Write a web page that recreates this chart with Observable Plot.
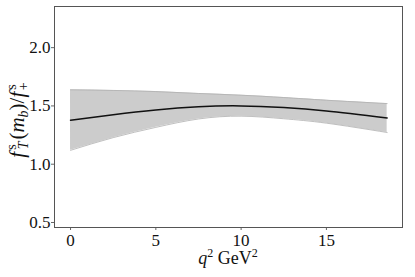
<!DOCTYPE html>
<html>
<head>
<meta charset="utf-8">
<script src="https://cdn.jsdelivr.net/npm/d3@7"></script>
<script src="https://cdn.jsdelivr.net/npm/@observablehq/plot@0.6"></script>
<style>
  html, body { margin: 0; padding: 0; background: #fff; }
  svg text { font-family: "Liberation Serif", "DejaVu Serif", serif !important; }
</style>
</head>
<body>
<div id="chart"></div>
<script>
const q2 = [0, 2.5, 5, 7.5, 10, 12.5, 15, 18.56];
const central = [1.377, 1.425, 1.466, 1.493, 1.500, 1.486, 1.457, 1.397];
const upper = [1.638, 1.633, 1.623, 1.607, 1.592, 1.572, 1.549, 1.520];
const lower = [1.119, 1.228, 1.316, 1.388, 1.412, 1.390, 1.352, 1.272];
const xTicks = [0, 5, 10, 15];
const yTicks = [0.5, 1.0, 1.5, 2.0];

const data = q2.map((x, i) => ({x, c: central[i], lo: lower[i], hi: upper[i]}));
const FONT = "'Liberation Serif', 'DejaVu Serif', serif";

const plot = Plot.plot({
  width: 415,
  height: 277,
  marginLeft: 54,
  marginRight: 13,
  marginTop: 6,
  marginBottom: 50,
  style: {fontFamily: FONT, fontSize: "17px", color: "#111", background: "#fff"},
  x: {domain: [-0.94, 19.46]},
  y: {domain: [0.457, 2.353]},
  marks: [
    Plot.areaY(data, {x: "x", y1: "lo", y2: "hi", fill: "#cccccc", curve: "natural"}),
    Plot.line(data, {x: "x", y: "hi", stroke: "#b0b0b0", strokeWidth: 0.8, curve: "natural"}),
    Plot.line(data, {x: "x", y: "lo", stroke: "#b0b0b0", strokeWidth: 0.8, curve: "natural"}),
    Plot.line(data, {x: "x", y: "c", stroke: "#111", strokeWidth: 1.5, curve: "natural"}),
    Plot.axisX({ticks: xTicks, tickSize: 3, tickPadding: 3, label: null, stroke: "#666", fontSize: 17, fontFamily: FONT}),
    Plot.axisY({ticks: yTicks, tickSize: 3, tickPadding: 1, tickFormat: d3.format(".1f"), label: null, stroke: "#666", fontSize: 17, fontFamily: FONT}),
    Plot.frame({stroke: "#555", strokeWidth: 1})
  ]
});

const svg = d3.select(plot);
// x label
const xl = svg.append("text")
  .attr("x", 228).attr("y", 264)
  .attr("text-anchor", "middle")
  .attr("font-size", 18)
  .attr("fill", "#111");
xl.append("tspan").attr("font-style", "italic").text("q");
xl.append("tspan").attr("font-size", 12).attr("dy", -7).text("2");
xl.append("tspan").attr("dy", 7).text(" GeV");
xl.append("tspan").attr("font-size", 12).attr("dy", -7).text("2");

// y label
const yl = svg.append("text")
  .attr("transform", "translate(24,120) rotate(-90)")
  .attr("text-anchor", "middle")
  .attr("font-size", 21)
  .attr("fill", "#111");
yl.append("tspan").attr("font-style", "italic").text("f");
yl.append("tspan").attr("font-size", 14).attr("dy", -8).attr("dx", 2).text("s");
yl.append("tspan").attr("font-size", 14).attr("font-style", "italic").attr("dx", -5).attr("dy", 12).text("T");
yl.append("tspan").attr("dy", -4).attr("dx", 2).text("(");
yl.append("tspan").attr("font-style", "italic").text("m");
yl.append("tspan").attr("font-size", 14).attr("font-style", "italic").attr("dy", 4).text("b");
yl.append("tspan").attr("dy", -4).text(")/");
yl.append("tspan").attr("font-style", "italic").text("f");
yl.append("tspan").attr("font-size", 14).attr("dy", -8).attr("dx", 2).text("s");
yl.append("tspan").attr("font-size", 14).attr("dx", -6).attr("dy", 12).text("+");

document.getElementById("chart").appendChild(plot);
</script>
</body>
</html>
